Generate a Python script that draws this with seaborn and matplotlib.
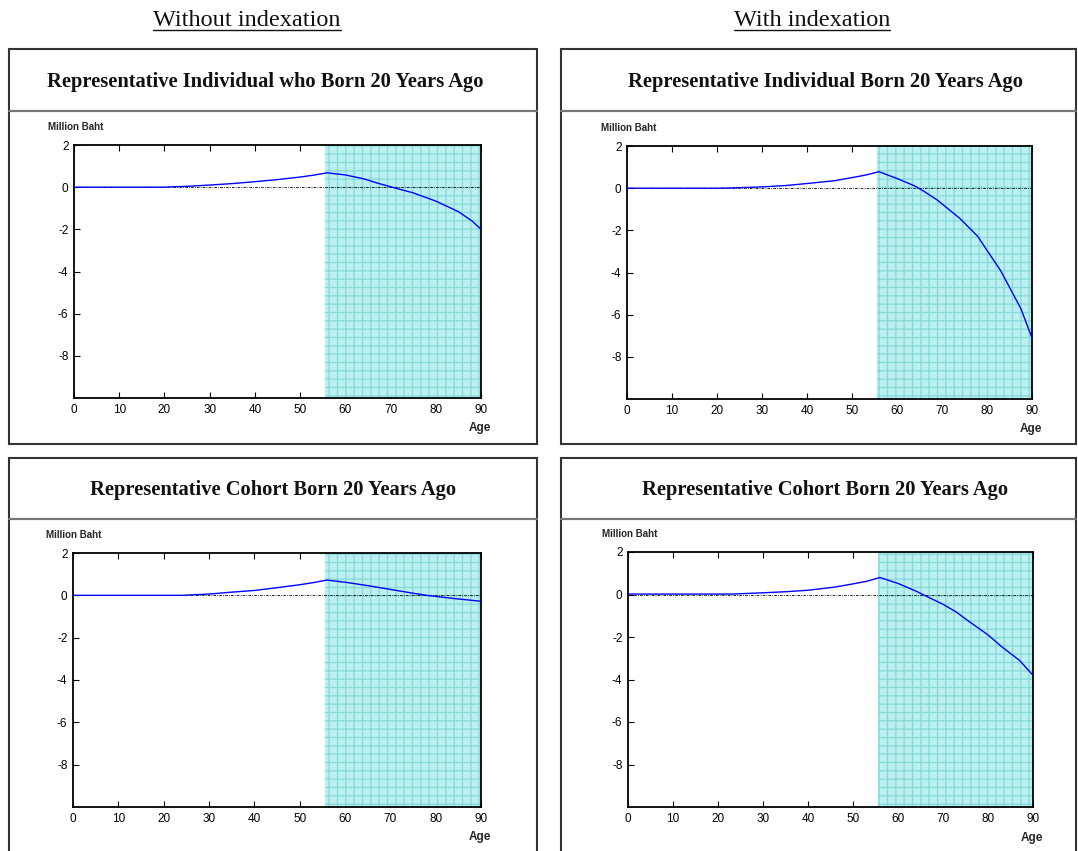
import numpy as np
import pandas as pd
import matplotlib
matplotlib.use("Agg")
import matplotlib.pyplot as plt
import seaborn as sns
from matplotlib.patches import Rectangle
from matplotlib.lines import Line2D

# ---------------- data ----------------
headers = ["Without indexation", "With indexation"]
titles = ["Representative Individual who Born 20 Years Ago",
          "Representative Individual Born 20 Years Ago",
          "Representative Cohort Born 20 Years Ago",
          "Representative Cohort Born 20 Years Ago"]

ages_ind_noidx = [0, 10, 20, 22, 25, 30, 35, 40, 45, 50, 53, 56, 60, 64, 67, 70, 75, 80, 85, 88, 90]
vals_ind_noidx = [0, 0, 0, 0.02, 0.04, 0.10, 0.17, 0.26, 0.36, 0.48, 0.57, 0.68, 0.58, 0.40, 0.20, 0.02, -0.27, -0.66, -1.16, -1.6, -2.0]

ages_ind_idx = [0, 10, 20, 23, 30, 35, 40, 46, 50, 53, 56, 60, 64, 66, 69, 74, 78, 80, 83, 85, 87.5, 90]
vals_ind_idx = [0, 0, 0, 0.01, 0.06, 0.12, 0.22, 0.35, 0.50, 0.62, 0.78, 0.46, 0.10, -0.15, -0.57, -1.44, -2.3, -2.95, -3.9, -4.7, -5.7, -7.1]

ages_coh_noidx = [0, 10, 20, 24, 30, 35, 40, 45, 50, 53, 56, 60, 65, 70, 75, 78, 84, 90]
vals_coh_noidx = [0, 0, 0, 0, 0.06, 0.15, 0.23, 0.36, 0.50, 0.60, 0.72, 0.62, 0.46, 0.28, 0.10, 0.0, -0.15, -0.28]

ages_coh_idx = [0, 10, 20, 23, 30, 35, 40, 46, 50, 53, 56, 60, 64, 66, 70, 73, 75, 80, 83, 87, 90]
vals_coh_idx = [0.02, 0.02, 0.02, 0.02, 0.08, 0.13, 0.20, 0.35, 0.50, 0.62, 0.80, 0.52, 0.16, -0.05, -0.46, -0.83, -1.15, -1.9, -2.45, -3.1, -3.8]

retire_age = 55.5
x_ticks = [0, 10, 20, 30, 40, 50, 60, 70, 80, 90]
y_ticks = [2, 0, -2, -4, -6, -8]
y_label = "Million Baht"
x_label = "Age"

series = [(ages_ind_noidx, vals_ind_noidx), (ages_ind_idx, vals_ind_idx),
          (ages_coh_noidx, vals_coh_noidx), (ages_coh_idx, vals_coh_idx)]

# ---------------- styling ----------------
sns.set_style("ticks")
plt.rcParams["font.family"] = ["Liberation Sans", "DejaVu Sans"]
plt.rcParams["hatch.linewidth"] = 0.9
plt.rcParams["axes.unicode_minus"] = False

W, H = 1078, 851
fig = plt.figure(figsize=(W / 100, H / 100), dpi=100)
fig.patch.set_facecolor("white")

def fx(x):
    return x / W

def fy(y):
    return 1 - y / H

# pixel geometry of panels
axes_px = [(74, 481, 145, 398), (627, 1032, 146, 399),
           (73, 481, 553, 807), (628, 1033, 552, 807)]
box_px = [(9, 537, 49, 444, 111), (561, 1076, 49, 444, 111),
          (9, 537, 458, 860, 519), (561, 1076, 458, 860, 519)]

# boxes
for (x0, x1, y0, y1, ys) in box_px:
    fig.add_artist(Rectangle((fx(x0), fy(y1)), fx(x1 - x0), (y1 - y0) / H,
                             transform=fig.transFigure, fill=False,
                             edgecolor="#333333", linewidth=1.5, zorder=0))
    fig.add_artist(Line2D([fx(x0), fx(x1)], [fy(ys), fy(ys)],
                          transform=fig.transFigure, color="#777777", linewidth=1.6))

title_y = [82, 82, 490, 490]
title_x = [265, 825, 273, 825]
for i in range(4):
    fig.text(fx(title_x[i]), fy(title_y[i]), titles[i], ha="center", va="center",
             family=["Liberation Serif", "DejaVu Serif"], fontweight="bold",
             fontsize=14.8, color="#111111")

for (ages, vals), (x0, x1, yt, yb) in zip(series, axes_px):
    ax = fig.add_axes([fx(x0), fy(yb), fx(x1 - x0), (yb - yt) / H])
    df = pd.DataFrame({"age": ages, "value": vals})
    ax.axvspan(retire_age, 90, facecolor="#bcefef", edgecolor="#84d9d9",
               hatch="++", linewidth=0, zorder=1)
    ax.axvline(90, color="#226666", linestyle=(0, (2, 1.5)), linewidth=0.8, zorder=2)
    ax.plot([0, 90], [0, 0], color="black", linestyle=(0, (3, 1.5, 1, 1.5)),
            linewidth=0.6, zorder=3)
    sns.lineplot(data=df, x="age", y="value", ax=ax, color="#0000ff",
                 linewidth=1.0, zorder=4, legend=False)
    ax.set_xlim(0, 90)
    ax.set_ylim(-10, 2)
    ax.set_xticks(x_ticks)
    ax.set_yticks(y_ticks)
    ax.set_xlabel("")
    ax.set_ylabel("")
    ax.tick_params(direction="in", length=4, width=0.8, top=True, right=True,
                   labelsize=8.5, colors="black", pad=4)
    for s in ax.spines.values():
        s.set_linewidth(1.3)
        s.set_color("black")
    ax.text(-0.065, 1.07, y_label, transform=ax.transAxes, fontsize=7,
            fontweight="bold", ha="left", va="center")
    ax.text(1.025, -0.12, x_label, transform=ax.transAxes, fontsize=8.5,
            fontweight="bold", ha="right", va="center")

# headers with underline
header_x = [247, 812]
renderer = fig.canvas.get_renderer()
for hx, htxt in zip(header_x, headers):
    t = fig.text(fx(hx), fy(20), htxt, ha="center", va="center",
                 family=["Liberation Serif", "DejaVu Serif"], fontsize=17.5,
                 color="#111111")
    bb = t.get_window_extent(renderer=renderer)
    yline = bb.y0 + 1
    fig.add_artist(Line2D([bb.x0 / W, bb.x1 / W], [yline / H, yline / H],
                          transform=fig.transFigure, color="#111111", linewidth=1.0))

fig.savefig("out.png", dpi=100, facecolor="white")
